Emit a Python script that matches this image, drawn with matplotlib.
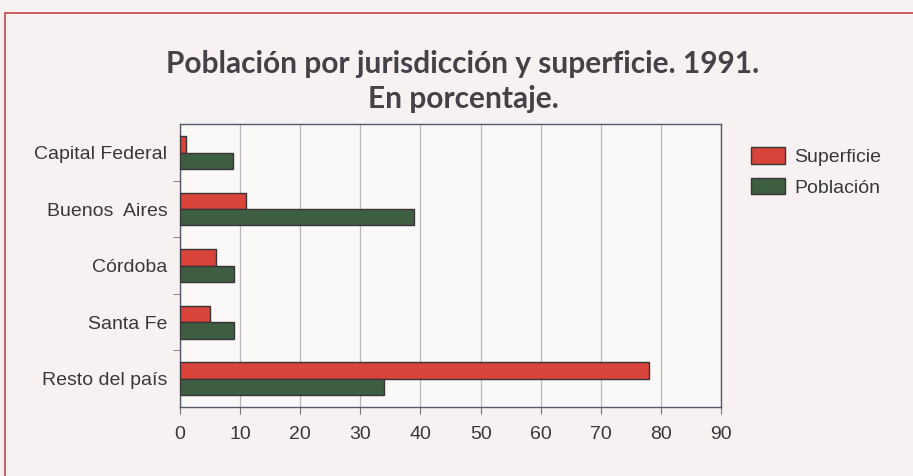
import numpy as np
import matplotlib.pyplot as plt
from matplotlib.patches import Rectangle

# ----------------------
# Data (percent, 1991)
# ----------------------
jurisdicciones = ["Capital Federal", "Buenos  Aires", "Córdoba", "Santa Fe", "Resto del país"]
superficie = [1.0, 11.0, 6.0, 5.0, 78.0]
poblacion = [8.9, 39.0, 9.0, 9.0, 34.0]
x_ticks = [0, 10, 20, 30, 40, 50, 60, 70, 80, 90]

RED = "#d8433a"
GREEN = "#3d5e40"
EDGE = "#3a3438"
BG = "#f7f1f1"
TEXT = "#38383c"

plt.rcParams["font.family"] = ["Liberation Sans", "DejaVu Sans"]

fig = plt.figure(figsize=(9.13, 4.76), dpi=100, facecolor=BG)
ax = fig.add_axes([0.197, 0.145, 0.593, 0.594])
ax.set_facecolor("#fbf8f8")

# outer frame of the page box
fig.patches.append(Rectangle((0.006, -0.1), 1.2, 1.072, transform=fig.transFigure,
                             fill=False, edgecolor="#c9605e", linewidth=1.4))

y = np.arange(len(jurisdicciones))
h = 0.29
ax.barh(y - h / 2, superficie, height=h, color=RED, edgecolor=EDGE, linewidth=1.0,
        label="Superficie", zorder=3)
ax.barh(y + h / 2, poblacion, height=h, color=GREEN, edgecolor=EDGE, linewidth=1.0,
        label="Población", zorder=3)

ax.set_xlim(0, 90)
ax.set_ylim(len(jurisdicciones) - 0.5, -0.5)
ax.set_xticks(x_ticks)
ax.set_xticklabels([str(t) for t in x_ticks], fontsize=14, color=TEXT)
ax.set_yticks(y)
ax.set_yticklabels(jurisdicciones, fontsize=14, color=TEXT)
ax.set_yticks(np.arange(len(jurisdicciones) - 1) + 0.5, minor=True)
ax.tick_params(axis="y", which="major", length=0, pad=9)
ax.tick_params(axis="y", which="minor", length=5, color="#777", direction="out")
ax.tick_params(axis="x", length=5, color="#777", direction="out", pad=9)

ax.grid(axis="x", color="#b8b8bc", linewidth=0.9, zorder=0)
for s in ax.spines.values():
    s.set_color("#555a6a")
    s.set_linewidth(1.0)

fig.text(0.507, 0.866, "Población por jurisdicción y superficie. 1991.", ha="center", va="center",
         fontsize=21.5, fontweight="bold", color="#444248", family=["Lato", "DejaVu Sans"])
fig.text(0.507, 0.792, "En porcentaje.", ha="center", va="center",
         fontsize=21.5, fontweight="bold", color="#444248", family=["Lato", "DejaVu Sans"])

leg = fig.legend(loc="upper left", bbox_to_anchor=(0.803, 0.728), frameon=False,
                 fontsize=14, handlelength=1.75, handleheight=0.95, labelspacing=0.6,
                 handletextpad=0.5)
for t in leg.get_texts():
    t.set_color(TEXT)

fig.savefig("out.png", dpi=100, facecolor=BG)
